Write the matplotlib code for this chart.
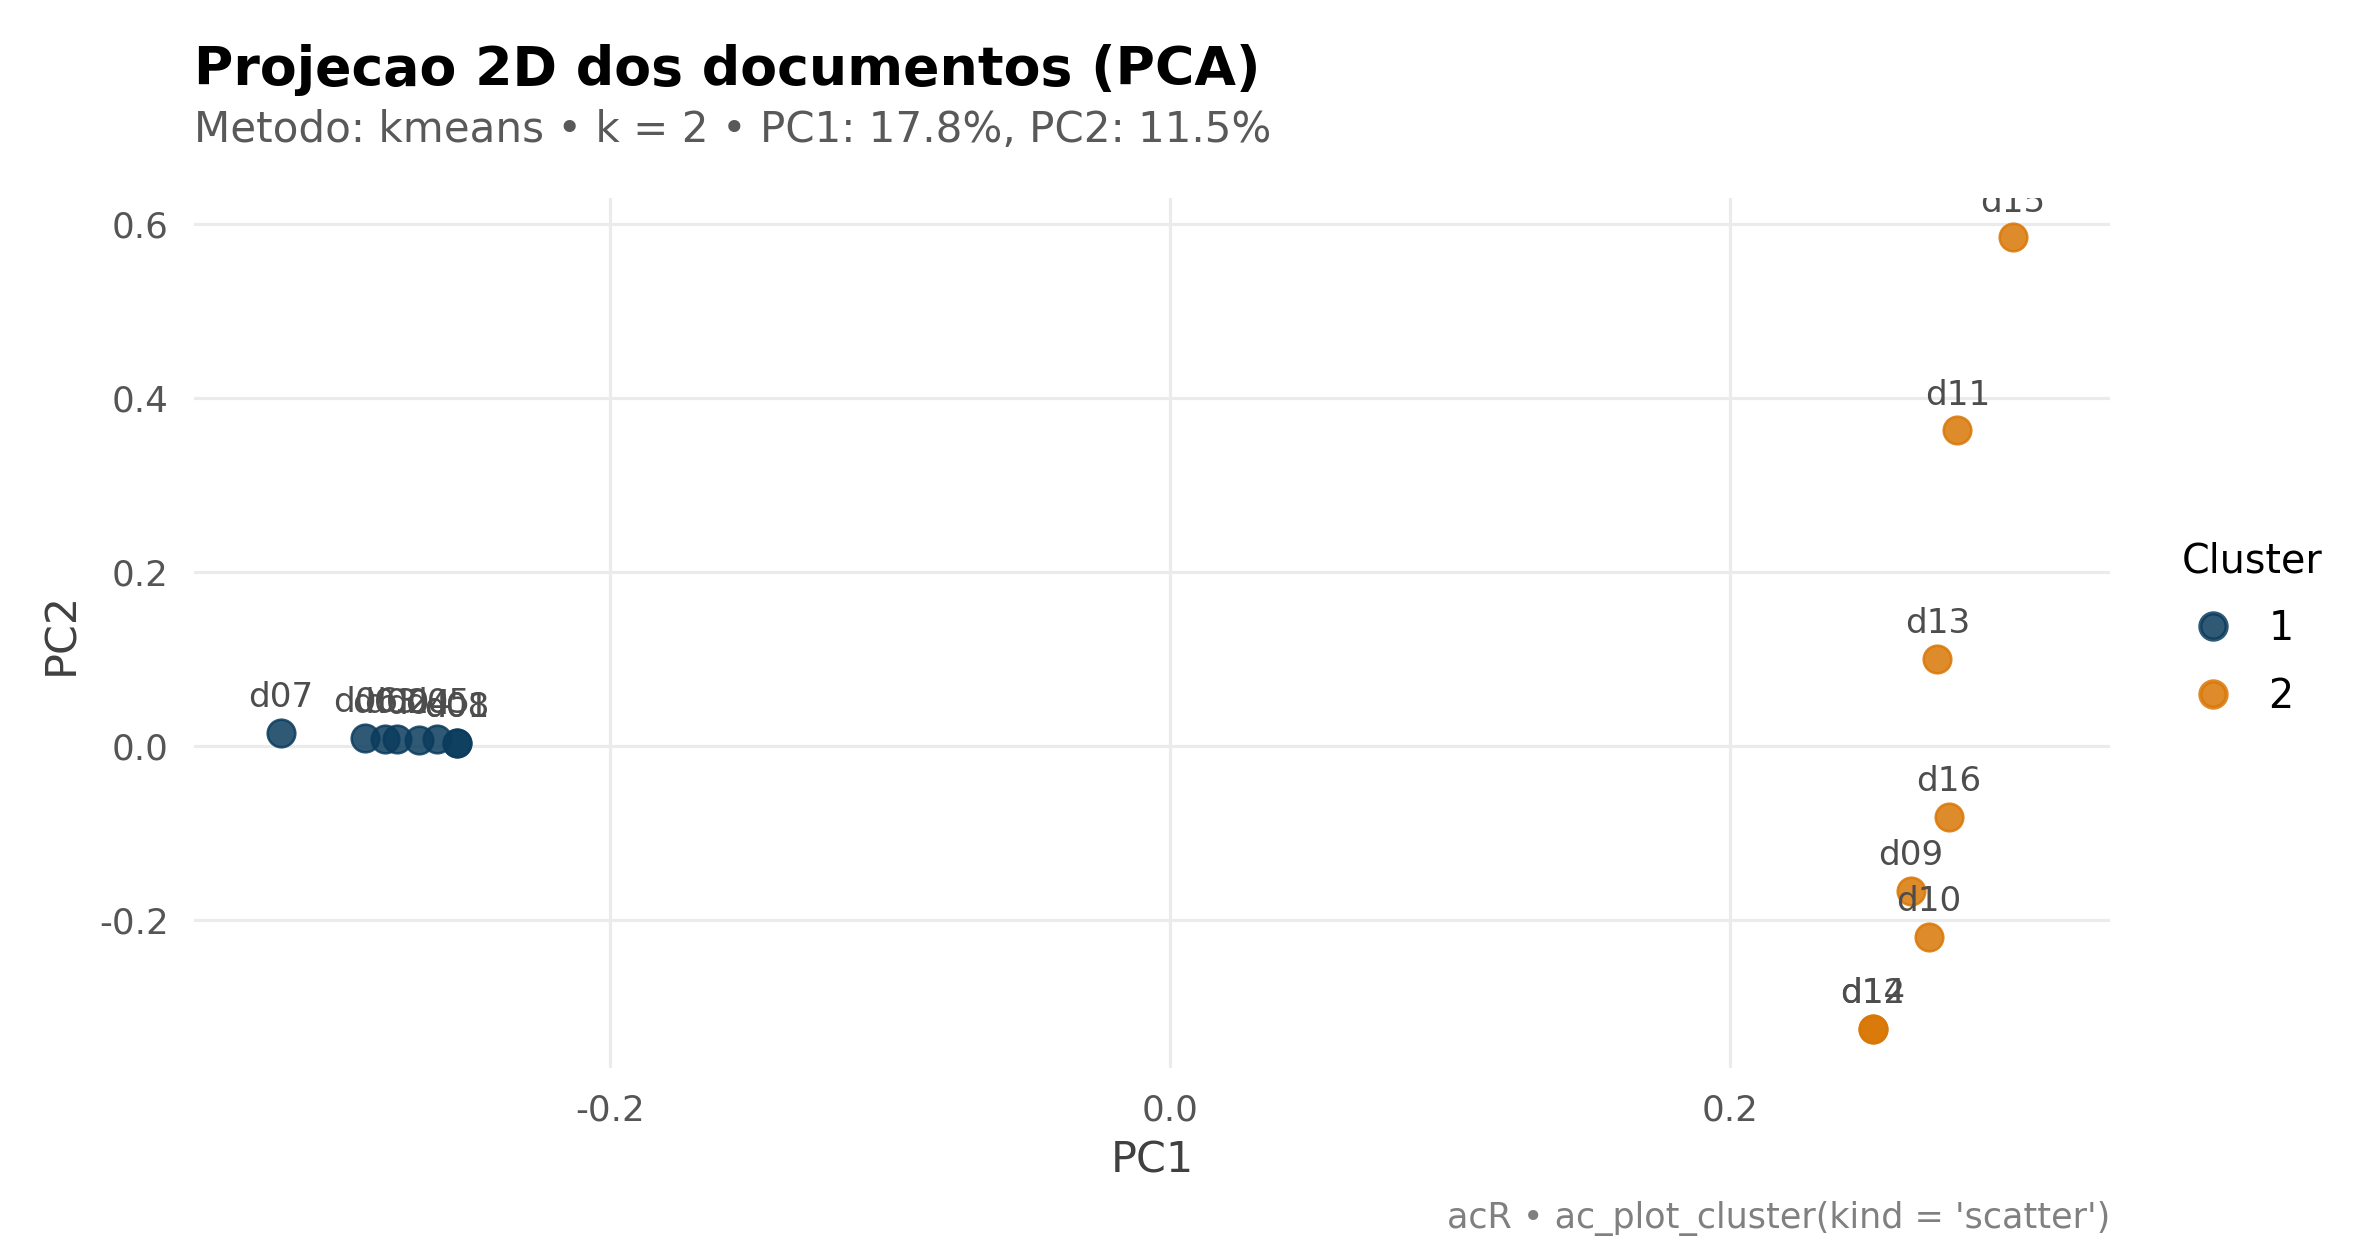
import matplotlib
matplotlib.use("Agg")
import matplotlib.pyplot as plt
from matplotlib.lines import Line2D

# ---- data ----
docs = ["d07", "d06", "d03", "d02", "d04", "d05", "d01", "d08",
        "d15", "d11", "d13", "d16", "d09", "d10", "d12", "d14"]
pc1 = [-0.3176, -0.2873, -0.2804, -0.2760, -0.2683, -0.2616, -0.2546, -0.2546,
       0.3011, 0.2812, 0.2740, 0.2780, 0.2645, 0.2710, 0.2509, 0.2509]
pc2 = [0.0153, 0.0095, 0.0084, 0.0084, 0.0076, 0.0084, 0.0038, 0.0038,
       0.585, 0.363, 0.1007, -0.0813, -0.166, -0.219, -0.325, -0.325]
cluster = [1, 1, 1, 1, 1, 1, 1, 1, 2, 2, 2, 2, 2, 2, 2, 2]
cluster_levels = [1, 2]
cluster_colors = {1: "#0b3c5d", 2: "#d97706"}
x_ticks = [-0.2, 0.0, 0.2]
y_ticks = [-0.2, 0.0, 0.2, 0.4, 0.6]

title = "Projecao 2D dos documentos (PCA)"
subtitle = "Metodo: kmeans \u2022 k = 2 \u2022 PC1: 17.8%, PC2: 11.5%"
caption = "acR \u2022 ac_plot_cluster(kind = 'scatter')"

plt.rcParams["font.family"] = ["DejaVu Sans"]

fig = plt.figure(figsize=(2380 / 300, 1260 / 300), dpi=300)
ax = fig.add_axes([0.0815, 0.152, 0.8051, 0.691])

for k in cluster_levels:
    xs = [x for x, c in zip(pc1, cluster) if c == k]
    ys = [y for y, c in zip(pc2, cluster) if c == k]
    ax.scatter(xs, ys, s=44, color=cluster_colors[k], alpha=0.85,
               edgecolors=cluster_colors[k], linewidths=0.6, zorder=3)

for name, x, y in zip(docs, pc1, pc2):
    ax.annotate(name, (x, y), xytext=(0, 8.4), textcoords="offset points",
                ha="center", va="center", fontsize=8.2, color="#4d4d4d",
                zorder=4, clip_on=True)

ax.set_xlim(-0.3485, 0.3357)
ax.set_ylim(-0.3705, 0.6305)
ax.set_xticks(x_ticks)
ax.set_xticklabels([f"{v:.1f}" for v in x_ticks])
ax.set_yticks(y_ticks)
ax.set_yticklabels([f"{v:.1f}" for v in y_ticks])
ax.grid(True, color="#ebebeb", linewidth=0.75)
ax.set_axisbelow(True)
for s in ax.spines.values():
    s.set_visible(False)
ax.tick_params(length=0, labelsize=8.6, labelcolor="#555555", pad=6)
ax.set_xlabel("PC1", fontsize=10.3, color="#404040", labelpad=3)
ax.set_ylabel("PC2", fontsize=10.3, color="#404040", labelpad=4)

handles = [Line2D([], [], marker="o", linestyle="none", markersize=6.3,
                  markerfacecolor=cluster_colors[k], markeredgecolor=cluster_colors[k],
                  alpha=0.85) for k in cluster_levels]
leg = ax.legend(handles, [str(k) for k in cluster_levels], title="Cluster",
                loc="center left", bbox_to_anchor=(1.029, 0.505), frameon=False,
                fontsize=9.5, title_fontsize=9.5, alignment="left",
                handlelength=1.6, handletextpad=0.6, labelspacing=0.7,
                borderaxespad=0)

fig.text(0.0815, 1 - 85 / 1260, title, fontsize=12.9, fontweight="bold",
         color="black", ha="left", va="baseline")
fig.text(0.0815, 1 - 142 / 1260, subtitle, fontsize=10.1, color="#595959",
         ha="left", va="baseline")
fig.text(0.8866, 1 - 1228 / 1260, caption, fontsize=8.4, color="#808080",
         ha="right", va="baseline")

fig.savefig("out.png", dpi=300, facecolor="white")
